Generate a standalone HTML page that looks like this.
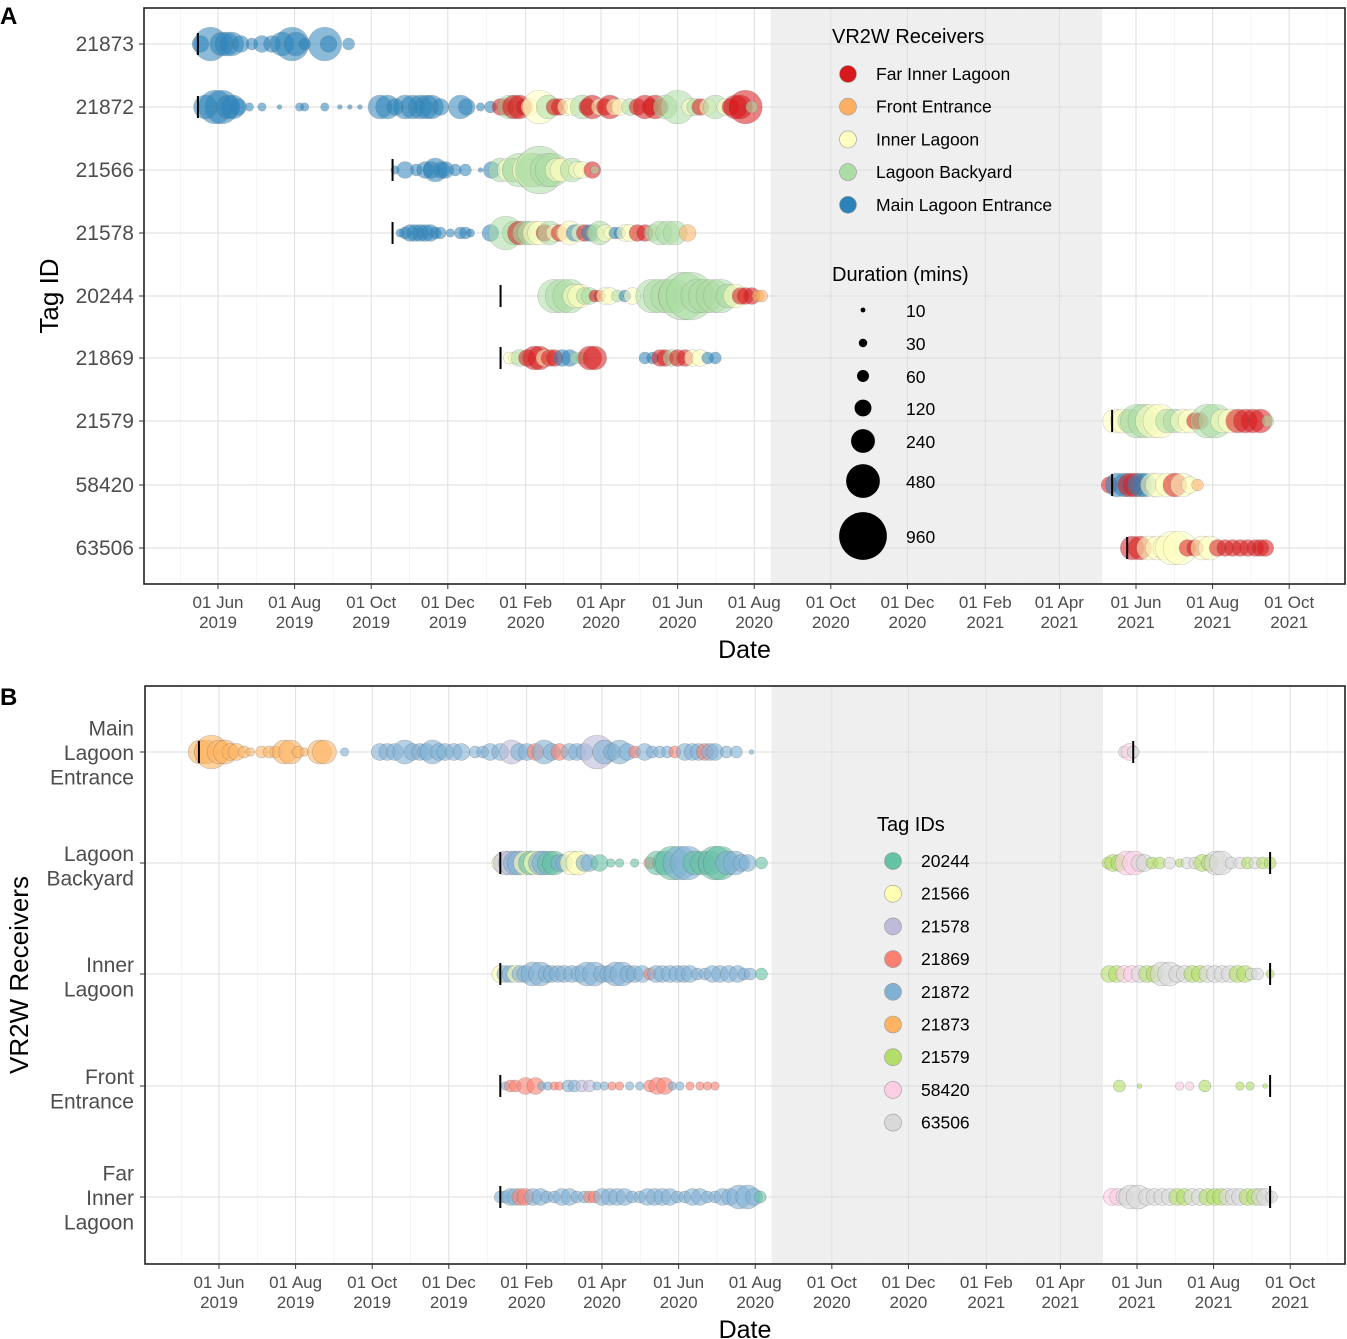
<!DOCTYPE html>
<html><head><meta charset="utf-8">
<style>
html,body{margin:0;padding:0;background:#fff;}
svg{display:block;font-family:"Liberation Sans",sans-serif;}
</style></head>
<body>
<svg id="chart" width="1347" height="1339" viewBox="0 0 1347 1339" xmlns="http://www.w3.org/2000/svg"></svg>
<script>
// ---------- data ----------
// days since 2019-06-01
const tickLabels = ["01 Jun\n2019","01 Aug\n2019","01 Oct\n2019","01 Dec\n2019","01 Feb\n2020","01 Apr\n2020","01 Jun\n2020","01 Aug\n2020","01 Oct\n2020","01 Dec\n2020","01 Feb\n2021","01 Apr\n2021","01 Jun\n2021","01 Aug\n2021","01 Oct\n2021"];
const tickDays = [0,61,122,183,245,305,366,427,488,549,611,670,731,792,853];
const shadeDays = [440,704];
const tagIds = ["21873","21872","21566","21578","20244","21869","21579","58420","63506"];
const receivers = ["Far Inner Lagoon","Front Entrance","Inner Lagoon","Lagoon Backyard","Main Lagoon Entrance"];
const recCodes = ["R","O","Y","G","M"];
const recColors = ["#d7191c","#fdae61","#ffffbf","#abdda4","#2b83ba"];
const durLegend = [10,30,60,120,240,480,960];
// panel A: per tag [day, receiver code, duration]
const tag21873 = [[-14,"M",120],[-6,"M",480],[3,"M",240],[7,"M",240],[11,"M",240],[18,"M",120],[27,"M",60],[35,"M",120],[43,"M",120],[51,"M",240],[59,"M",480],[62,"M",240],[69,"M",60],[85,"M",480],[88,"M",120],[104,"M",60]];
const tag21872 = [[-10,"M",240],[-2,"M",480],[3,"M",480],[8,"M",240],[12,"M",240],[16,"M",120],[25,"M",30],[35,"M",30],[49,"M",10],[65,"M",30],[69,"M",30],[85,"M",30],[97,"M",10],[105,"M",10],[113,"M",10],[129,"M",240],[135,"M",240],[141,"M",120],[149,"M",240],[155,"M",240],[161,"M",240],[166,"M",240],[170,"M",240],[177,"M",120],[193,"M",240],[198,"M",120],[209,"M",30],[217,"M",60],[225,"R",120],[229,"R",120],[232,"G",240],[236,"R",240],[240,"R",240],[244,"R",120],[248,"Y",120],[256,"Y",480],[263,"G",240],[268,"R",120],[272,"R",120],[277,"Y",120],[282,"Y",120],[290,"G",240],[294,"R",120],[298,"R",240],[304,"Y",120],[308,"R",120],[312,"R",240],[316,"Y",120],[320,"Y",120],[328,"G",120],[334,"R",120],[340,"R",240],[344,"R",120],[348,"R",240],[352,"R",120],[356,"G",240],[366,"G",480],[376,"Y",120],[380,"G",120],[384,"R",120],[390,"Y",120],[396,"G",240],[404,"Y",120],[408,"R",120],[412,"R",240],[416,"R",240],[420,"R",480],[425,"G",60]];
const tag21566 = [[141,"M",30],[149,"M",120],[158,"M",60],[165,"M",120],[170,"M",120],[173,"M",240],[178,"M",120],[181,"M",120],[189,"M",60],[197,"M",60],[209,"M",10],[218,"M",120],[225,"G",240],[232,"Y",240],[236,"G",240],[240,"G",480],[248,"Y",480],[252,"G",480],[256,"G",960],[262,"G",480],[266,"G",480],[270,"Y",240],[274,"Y",240],[282,"G",240],[286,"Y",120],[290,"Y",120],[298,"R",120],[300,"G",30]];
const tag21578 = [[145,"M",30],[149,"M",60],[153,"M",120],[157,"M",120],[161,"M",120],[165,"M",120],[169,"M",120],[173,"M",60],[177,"M",60],[185,"M",30],[193,"M",60],[197,"M",60],[201,"M",30],[217,"M",120],[229,"G",480],[236,"G",240],[240,"R",240],[244,"G",240],[248,"G",240],[252,"Y",240],[256,"Y",240],[260,"R",120],[264,"G",240],[268,"Y",120],[272,"R",120],[276,"Y",120],[280,"Y",240],[284,"M",120],[288,"Y",120],[292,"R",120],[296,"M",120],[300,"G",120],[304,"G",240],[308,"Y",120],[312,"Y",60],[316,"M",60],[320,"M",60],[324,"Y",120],[328,"Y",120],[334,"R",120],[340,"R",120],[346,"G",120],[352,"G",240],[358,"G",240],[364,"G",240],[374,"O",120]];
const tag20244 = [[268,"G",480],[274,"G",480],[280,"G",480],[284,"Y",240],[288,"Y",240],[292,"G",120],[296,"G",120],[300,"R",60],[304,"R",60],[308,"Y",120],[312,"Y",120],[318,"G",60],[324,"M",60],[330,"Y",120],[346,"G",480],[352,"G",480],[358,"G",480],[364,"G",480],[370,"G",960],[376,"G",960],[382,"G",480],[388,"G",480],[394,"G",480],[400,"G",480],[406,"G",240],[412,"Y",240],[416,"R",120],[420,"R",120],[425,"R",120],[430,"O",60],[433,"O",60]];
const tag21869 = [[232,"Y",60],[236,"Y",60],[240,"G",120],[246,"R",120],[252,"R",240],[256,"R",240],[260,"Y",120],[264,"R",120],[268,"R",120],[274,"M",120],[280,"M",120],[285,"G",60],[290,"G",60],[296,"R",240],[300,"R",240],[340,"M",60],[346,"M",60],[352,"R",120],[356,"R",120],[361,"G",120],[366,"R",120],[372,"R",120],[378,"Y",120],[384,"Y",120],[390,"M",60],[396,"M",60]];
const tag21579 = [[714,"Y",240],[720,"Y",240],[726,"G",240],[732,"G",480],[738,"G",480],[744,"Y",480],[750,"Y",480],[756,"G",240],[762,"G",240],[768,"Y",240],[774,"Y",240],[778,"R",120],[782,"R",120],[788,"G",480],[794,"G",480],[800,"Y",240],[806,"Y",240],[812,"R",240],[818,"R",240],[824,"R",240],[830,"R",240],[836,"G",60]];
const tag58420 = [[710,"R",120],[716,"M",240],[722,"M",240],[726,"R",240],[730,"R",240],[734,"M",240],[738,"M",240],[744,"Y",240],[748,"Y",240],[756,"Y",240],[762,"R",240],[768,"Y",240],[774,"Y",120],[780,"O",60]];
const tag63506 = [[728,"R",240],[734,"R",240],[741,"Y",240],[748,"Y",240],[754,"Y",240],[760,"Y",480],[766,"Y",480],[772,"R",120],[778,"R",120],[784,"Y",240],[790,"Y",240],[796,"R",120],[802,"R",120],[808,"R",120],[814,"R",120],[820,"R",120],[826,"R",120],[830,"R",120],[834,"R",120]];
const tagStartDays = [-16,-16,139,139,225,225,712,712,724];
// panel B
const bTagIds = ["20244","21566","21578","21869","21872","21873","21579","58420","63506"];
const bTagColors = ["#66c2a5","#ffffb3","#bebada","#fb8072","#80b1d3","#fdb462","#b3de69","#fccde5","#d9d9d9"];
const bRecLabels = [["Main","Lagoon","Entrance"],["Lagoon","Backyard"],["Inner","Lagoon"],["Front","Entrance"],["Far","Inner","Lagoon"]];
const recMain = [[-15,"21873",240],[-10,"21873",240],[-6,"21873",480],[0,"21873",240],[5,"21873",240],[9,"21873",120],[14,"21873",120],[20,"21873",60],[25,"21873",30],[34,"21873",60],[40,"21873",60],[45,"21873",60],[52,"21873",240],[57,"21873",240],[63,"21873",60],[68,"21873",30],[80,"21873",240],[84,"21873",240],[100,"21872",30],[128,"21872",120],[134,"21872",120],[140,"21872",120],[148,"21872",240],[154,"21872",120],[160,"21872",120],[165,"21872",120],[170,"21872",240],[175,"21872",120],[180,"21872",120],[187,"21872",120],[193,"21872",120],[204,"21872",60],[210,"21872",60],[216,"21872",120],[224,"21872",120],[233,"21578",240],[239,"21872",120],[245,"21872",120],[252,"21869",120],[259,"21872",240],[265,"21872",120],[271,"21869",120],[279,"21872",120],[285,"21872",120],[291,"21872",120],[301,"21578",480],[307,"21872",240],[313,"21872",120],[319,"21872",240],[325,"21872",120],[331,"21869",60],[339,"21872",120],[345,"21872",60],[351,"21872",60],[357,"21872",60],[363,"21869",60],[371,"21872",120],[377,"21872",120],[382,"21872",120],[387,"21869",120],[391,"21872",120],[395,"21872",120],[404,"21872",60],[412,"21872",60],[424,"21872",10],[721,"63506",60],[725,"58420",120],[728,"63506",60]];
const recBackyard = [[224,"21566",120],[228,"21578",240],[232,"21578",240],[236,"21872",240],[239,"21872",240],[244,"21566",240],[248,"20244",240],[252,"21566",240],[256,"21872",240],[259,"21872",240],[263,"20244",240],[267,"20244",240],[271,"21872",120],[275,"21872",120],[281,"21566",240],[286,"21566",240],[291,"21872",120],[295,"21872",120],[303,"20244",120],[312,"20244",30],[319,"20244",30],[331,"20244",30],[343,"21869",60],[349,"20244",240],[355,"20244",240],[361,"20244",480],[367,"21872",480],[373,"21872",480],[379,"20244",240],[385,"20244",240],[391,"21872",240],[395,"20244",480],[399,"20244",480],[405,"21872",240],[411,"21872",240],[416,"21872",120],[421,"21872",120],[432,"20244",60],[708,"21579",60],[712,"21579",120],[717,"21579",120],[723,"58420",240],[729,"58420",240],[733,"63506",120],[737,"63506",120],[743,"21579",60],[749,"21579",60],[757,"63506",60],[765,"21579",30],[771,"63506",60],[777,"63506",60],[783,"21579",120],[789,"21579",120],[794,"63506",240],[798,"63506",240],[806,"63506",60],[813,"63506",60],[819,"21579",60],[825,"63506",60],[831,"21579",60],[837,"21579",60]];
const recInner = [[224,"21566",120],[228,"21872",120],[232,"21872",120],[236,"21566",120],[240,"21872",120],[244,"21872",120],[250,"21872",240],[256,"21872",240],[261,"21872",120],[265,"21872",120],[270,"21872",120],[275,"21872",120],[281,"21872",120],[287,"21872",120],[293,"21872",240],[299,"21872",240],[305,"21872",120],[310,"21872",120],[316,"21872",240],[321,"21872",240],[326,"21872",120],[331,"21872",120],[337,"21872",120],[343,"21869",60],[348,"21872",120],[353,"21872",120],[359,"21872",120],[365,"21872",120],[370,"21872",120],[375,"21872",120],[381,"21872",60],[387,"21872",60],[393,"21872",120],[399,"21872",120],[406,"21872",120],[413,"21872",120],[418,"21872",60],[423,"21872",60],[432,"20244",60],[709,"21579",120],[715,"21579",120],[721,"58420",120],[727,"58420",120],[733,"63506",120],[739,"21579",120],[745,"21579",120],[751,"63506",240],[757,"63506",240],[763,"63506",120],[769,"63506",120],[775,"21579",120],[781,"21579",120],[787,"63506",120],[793,"63506",120],[799,"63506",120],[805,"63506",120],[811,"21579",120],[817,"21579",120],[822,"63506",60],[827,"63506",60],[837,"21579",30]];
const recFront = [[228,"21872",30],[232,"21869",60],[236,"21869",60],[244,"21869",120],[252,"21869",120],[257,"21872",30],[262,"21872",30],[267,"21869",30],[271,"21869",30],[278,"21872",60],[283,"21872",60],[289,"21578",60],[295,"21578",60],[301,"21872",30],[307,"21872",30],[313,"21869",30],[319,"21869",30],[327,"21872",30],[335,"21872",30],[343,"21869",60],[349,"21869",120],[355,"21869",120],[361,"21872",30],[367,"21872",30],[375,"21869",30],[383,"21869",30],[389,"21869",30],[395,"21869",30],[717,"21579",60],[733,"21579",10],[765,"58420",30],[773,"58420",30],[785,"21579",60],[813,"21579",30],[821,"21579",30],[833,"21579",10]];
const recFar = [[224,"21872",60],[228,"21872",60],[232,"21872",120],[236,"21872",120],[240,"21869",120],[244,"21869",120],[250,"21872",120],[256,"21872",120],[261,"21872",60],[267,"21872",60],[273,"21872",120],[279,"21872",120],[285,"21872",60],[291,"21872",60],[295,"21869",60],[299,"21869",60],[305,"21872",120],[311,"21872",120],[317,"21872",120],[323,"21872",120],[329,"21872",60],[335,"21872",60],[341,"21872",120],[347,"21872",120],[353,"21872",120],[359,"21872",120],[365,"21872",60],[371,"21872",60],[377,"21872",120],[383,"21872",120],[389,"21872",60],[395,"21872",60],[401,"21872",120],[407,"21872",120],[414,"21872",240],[421,"21872",240],[426,"21872",120],[431,"20244",60],[711,"58420",120],[716,"58420",120],[721,"63506",120],[726,"63506",240],[732,"63506",240],[739,"63506",120],[745,"63506",120],[751,"63506",120],[757,"63506",120],[763,"21579",120],[769,"21579",120],[775,"63506",120],[781,"63506",120],[787,"21579",120],[793,"21579",120],[798,"21579",120],[803,"63506",120],[808,"63506",120],[813,"63506",120],[819,"21579",120],[825,"21579",120],[829,"63506",120],[833,"63506",120],[838,"63506",60]];
const recStartDays = [[-16,728],[224,837],[224,837],[224,837],[224,837]];

// ---------- drawing ----------
const svg = document.getElementById('chart');
const NS = 'http://www.w3.org/2000/svg';
function el(tag, attrs, parent){ const e=document.createElementNS(NS,tag); for(const k in attrs) e.setAttribute(k,attrs[k]); (parent||svg).appendChild(e); return e; }
function rad(d){ return Math.sqrt(d)*0.77; }

function panel(p){
  const x = d => p.x0 + d*p.k;
  const g = el('g',{});  
  el('rect',{x:p.L,y:p.T,width:p.R-p.L,height:p.B-p.T,fill:'#fff'},g);
  const sh = el('rect',{x:x(shadeDays[0]),y:p.T,width:x(shadeDays[1])-x(shadeDays[0]),height:p.B-p.T,fill:'#efefef'},g);
   
  for(let i=0;i<tickDays.length;i++){
    const xm = x(tickDays[i]);
    el('line',{x1:xm,x2:xm,y1:p.T,y2:p.B,stroke:'#dedede','stroke-width':1},g);
    const half = i<tickDays.length-1 ? (tickDays[i]+tickDays[i+1])/2 : tickDays[i]+30;
    el('line',{x1:x(half),x2:x(half),y1:p.T,y2:p.B,stroke:'#f0f0f0','stroke-width':0.7},g);
    if(i===0){ el('line',{x1:x(-30),x2:x(-30),y1:p.T,y2:p.B,stroke:'#f0f0f0','stroke-width':0.7},g); }
  }
  p.rowsY.forEach(y=>el('line',{x1:p.L,x2:p.R,y1:y,y2:y,stroke:'#dedede','stroke-width':1},g));
  p.rows.forEach((row,ri)=>{
    row.forEach(pt=>{
      const c = el('circle',{cx:x(pt[0]),cy:p.rowsY[ri],r:rad(pt[2]),fill:p.color(pt[1]),'fill-opacity':p.op,stroke:p.stroke,'stroke-opacity':0.35,'stroke-width':0.6},g);
       
    });
    p.starts[ri].forEach(sd=>{
      const t = el('line',{x1:x(sd),x2:x(sd),y1:p.rowsY[ri]-11,y2:p.rowsY[ri]+11,stroke:'#000','stroke-width':2},g);
       
    });
  });
  el('rect',{x:p.L,y:p.T,width:p.R-p.L,height:p.B-p.T,fill:'none',stroke:'#222','stroke-width':1.6},g);
  tickLabels.forEach((lab,i)=>{
    const xm = x(tickDays[i]);
    el('line',{x1:xm,x2:xm,y1:p.B,y2:p.B+5,stroke:'#333','stroke-width':1},g);
    lab.split('\n').forEach((s,j)=>{
      const t = el('text',{x:xm,y:p.B+24+j*20,'text-anchor':'middle','font-size':17,fill:'#4d4d4d'},g);
      t.textContent = s;
       
    });
  });
  const xt = el('text',{x:(p.L+p.R)/2,y:p.B+74,'text-anchor':'middle','font-size':25,fill:'#000'},g);
  xt.textContent='Date';  
  return g;
}

const recIdx = c => recCodes.indexOf(c);
panel({name:'panel-a',L:144,R:1345,T:8,B:584,x0:218,k:1.2558,
  rowsY:[44,107,170,233,296,358,421,485,548],
  rows:[tag21873,tag21872,tag21566,tag21578,tag20244,tag21869,tag21579,tag58420,tag63506],
  starts:tagStartDays.map(d=>[d]),
  color:c=>recColors[recIdx(c)], op:0.55, stroke:'#777'});
const rowsA=[44,107,170,233,296,358,421,485,548];
tagIds.forEach((t,i)=>{
  el('line',{x1:139,x2:144,y1:rowsA[i],y2:rowsA[i],stroke:'#333'});
  const e=el('text',{x:134,y:rowsA[i]+7,'text-anchor':'end','font-size':21,fill:'#4d4d4d'}); e.textContent=t;
   
});
let yt=el('text',{x:0,y:0,'text-anchor':'middle','font-size':26,fill:'#000',transform:'translate(58,296) rotate(-90)'}); yt.textContent='Tag ID';
 
let pa=el('text',{x:0,y:24,'font-size':24,'font-weight':'bold'}); pa.textContent='A';
 

let lt=el('text',{x:832,y:43,'font-size':20,fill:'#000'}); lt.textContent='VR2W Receivers';
 
receivers.forEach((r,i)=>{
  const y=74+i*32.7;
  const c=el('circle',{cx:848,cy:y,r:8.5,fill:recColors[i],stroke:'#999','stroke-width':0.6});
   
  const t=el('text',{x:876,y:y+6,'font-size':17.5,fill:'#000'}); t.textContent=r;
   
});
let dt=el('text',{x:832,y:281,'font-size':20,fill:'#000'}); dt.textContent='Duration (mins)';
 
const dY=[310,343,376,408,441,481,536];
durLegend.forEach((d,i)=>{
  const c=el('circle',{cx:863,cy:dY[i],r:rad(d),fill:'#000'});
   
  const t=el('text',{x:906,y:dY[i]+7,'font-size':17.5,fill:'#000'}); t.textContent=d;
   
});

panel({name:'panel-b',L:145,R:1345,T:686,B:1264,x0:219,k:1.2558,
  rowsY:[752,863,974,1086,1197],
  rows:[recMain,recBackyard,recInner,recFront,recFar],
  starts:recStartDays,
  color:t=>bTagColors[bTagIds.indexOf(t)], op:0.6, stroke:'#555'});
const rowsB=[752,863,974,1086,1197];
bRecLabels.forEach((lines,i)=>{
  el('line',{x1:140,x2:145,y1:rowsB[i],y2:rowsB[i],stroke:'#333'});
  const n=lines.length;
  lines.forEach((s,j)=>{
    const yy = n===3 ? rowsB[i]+8+(j-1)*24.5 : rowsB[i]-2+j*24.5;
    const t=el('text',{x:134,y:yy,'text-anchor':'end','font-size':21,fill:'#4d4d4d'});
    t.textContent=s;  
  });
});
yt=el('text',{x:0,y:0,'text-anchor':'middle','font-size':26,fill:'#000',transform:'translate(28,975) rotate(-90)'}); yt.textContent='VR2W Receivers';
 
pa=el('text',{x:0,y:705,'font-size':24,'font-weight':'bold'}); pa.textContent='B';
 
lt=el('text',{x:877,y:831,'font-size':20,fill:'#000'}); lt.textContent='Tag IDs';
 
bTagIds.forEach((t,i)=>{
  const y=861+i*32.7;
  const c=el('circle',{cx:893,cy:y,r:8.5,fill:bTagColors[i],stroke:'#999','stroke-width':0.6});
   
  const e=el('text',{x:921,y:y+6,'font-size':17.5,fill:'#000'}); e.textContent=t;
   
});
</script>
</body></html>
